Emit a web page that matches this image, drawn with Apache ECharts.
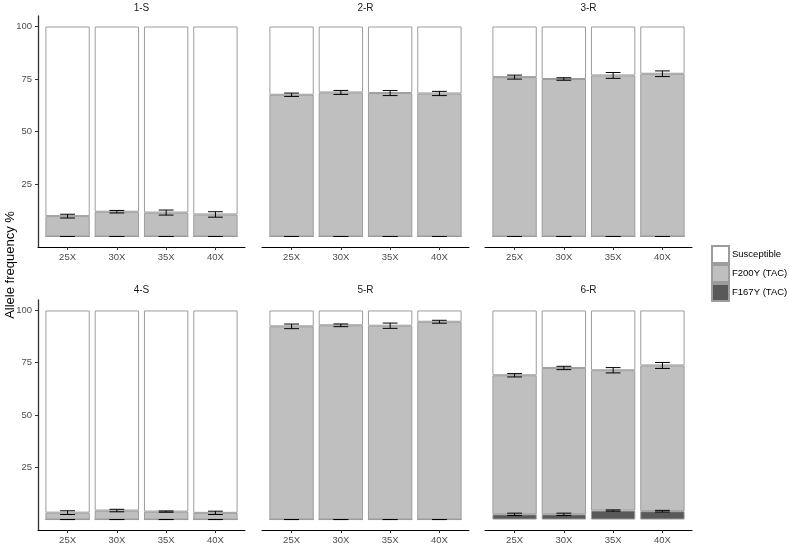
<!DOCTYPE html>
<html>
<head>
<meta charset="utf-8">
<script src="https://cdn.jsdelivr.net/npm/echarts@6/dist/echarts.min.js"></script>
<style>
html,body{margin:0;padding:0;background:#fff;}
#chart{width:789px;height:545px;}
</style>
</head>
<body>
<div id="chart"></div>
<script>
// ---- data ----
const categories = ['25X', '30X', '35X', '40X'];
const panelNames = ['1-S', '2-R', '3-R', '4-S', '5-R', '6-R'];
const yTickValues = [25, 50, 75, 100];

// F167Y (TAC) segment values and standard errors
const f167Y_1S = [0, 0, 0, 0];
const f167Y_2R = [0, 0, 0, 0];
const f167Y_3R = [0, 0, 0, 0];
const f167Y_4S = [0, 0, 0, 0];
const f167Y_5R = [0, 0, 0, 0];
const f167Y_6R = [2.5, 2.5, 4.3, 4.0];
const f167Yse_1S = [0, 0, 0, 0];
const f167Yse_2R = [0, 0, 0, 0];
const f167Yse_3R = [0, 0, 0, 0];
const f167Yse_4S = [0, 0, 0, 0];
const f167Yse_5R = [0, 0, 0, 0];
const f167Yse_6R = [0.55, 0.55, 0.3, 0.4];

// F200Y (TAC) segment values and standard errors
const f200Y_1S = [9.7, 11.8, 11.4, 10.5];
const f200Y_2R = [67.5, 68.6, 68.3, 68.1];
const f200Y_3R = [75.9, 75.0, 76.7, 77.5];
const f200Y_4S = [3.3, 4.3, 3.8, 3.2];
const f200Y_5R = [92.4, 92.9, 92.7, 94.6];
const f200Y_6R = [66.5, 70.0, 67.1, 69.7];
const f200Yse_1S = [0.9, 0.6, 1.2, 1.3];
const f200Yse_2R = [0.8, 0.95, 1.2, 1.0];
const f200Yse_3R = [0.95, 0.6, 1.4, 1.35];
const f200Yse_4S = [0.9, 0.6, 0.3, 0.8];
const f200Yse_5R = [1.1, 0.65, 1.27, 0.7];
const f200Yse_6R = [0.8, 0.8, 1.27, 1.43];

// Susceptible segment values
const susc_1S = [90.3, 88.2, 88.6, 89.5];
const susc_2R = [32.5, 31.4, 31.7, 31.9];
const susc_3R = [24.1, 25.0, 23.3, 22.5];
const susc_4S = [96.7, 95.7, 96.2, 96.8];
const susc_5R = [7.6, 7.1, 7.3, 5.4];
const susc_6R = [31.0, 27.5, 28.6, 26.3];

const f167Y = [f167Y_1S, f167Y_2R, f167Y_3R, f167Y_4S, f167Y_5R, f167Y_6R];
const f167Yse = [f167Yse_1S, f167Yse_2R, f167Yse_3R, f167Yse_4S, f167Yse_5R, f167Yse_6R];
const f200Y = [f200Y_1S, f200Y_2R, f200Y_3R, f200Y_4S, f200Y_5R, f200Y_6R];
const f200Yse = [f200Yse_1S, f200Yse_2R, f200Yse_3R, f200Yse_4S, f200Yse_5R, f200Yse_6R];
const susc = [susc_1S, susc_2R, susc_3R, susc_4S, susc_5R, susc_6R];

// ---- layout / style ----
const FONT = '"Liberation Sans", Arial, Helvetica, sans-serif';
const colLeft = [38, 262, 485];
const rowTop = [16, 300];
const rowH = [231, 230];
const gridW = 207;
const xMin = 0.4, xMax = 4.6;
const barW = gridW / (xMax - xMin) * 0.9;
const borderCol = '#9c9c9c';
const colors = { susc: '#FFFFFF', f200: '#BFBFBF', f167: '#595959' };

const chart = echarts.init(document.getElementById('chart'), null, { renderer: 'canvas' });

const grids = [], xAxes = [], yAxes = [], series = [], titles = [];

function errRender(params, api) {
  const x = api.value(0), y = api.value(1), se = api.value(2);
  const top = api.coord([x, y + se]);
  const bot = api.coord([x, y - se]);
  const hw = api.size([0.15, 0])[0];
  const st = { stroke: '#000', lineWidth: 1 };
  return {
    type: 'group',
    children: [
      { type: 'line', shape: { x1: top[0], y1: top[1], x2: bot[0], y2: bot[1] }, style: st },
      { type: 'line', shape: { x1: top[0] - hw, y1: top[1], x2: top[0] + hw, y2: top[1] }, style: st },
      { type: 'line', shape: { x1: bot[0] - hw, y1: bot[1], x2: bot[0] + hw, y2: bot[1] }, style: st }
    ]
  };
}

panelNames.forEach((name, p) => {
  const col = p % 3, row = Math.floor(p / 3);
  const left = colLeft[col], top = rowTop[row], h = rowH[row];
  grids.push({ left: left, top: top, width: gridW, height: h, containLabel: false });
  xAxes.push({
    type: 'value', gridIndex: p, min: xMin, max: xMax,
    axisLine: { show: true, onZero: false, lineStyle: { color: '#000', width: 1 } },
    axisTick: { show: true, length: 3, customValues: [1, 2, 3, 4], lineStyle: { color: '#333' } },
    axisLabel: {
      customValues: [1, 2, 3, 4], margin: 5,
      formatter: v => categories[Math.round(v) - 1] || '',
      color: '#4D4D4D', fontSize: 9.5, fontFamily: FONT
    },
    splitLine: { show: false }
  });
  const showY = col === 0;
  yAxes.push({
    type: 'value', gridIndex: p, min: -5, max: 105,
    axisLine: { show: showY, onZero: false, lineStyle: { color: '#333', width: 1.3 } },
    axisTick: { show: showY, length: 3, customValues: yTickValues, lineStyle: { color: '#333' } },
    axisLabel: {
      show: showY, customValues: yTickValues, margin: 6,
      color: '#4D4D4D', fontSize: 9.5, fontFamily: FONT
    },
    splitLine: { show: false }
  });
  titles.push({
    text: name, left: left + gridW / 2, top: row === 0 ? 3 : 285, textAlign: 'center', padding: 0,
    textStyle: { fontSize: 10, fontWeight: 'normal', color: '#1A1A1A', fontFamily: FONT }
  });

  // value first so the y dimension is the stacked one; x position second
  const mk = arr => arr.map((v, i) => [v, i + 1]);
  const common = {
    type: 'bar', xAxisIndex: p, yAxisIndex: p, stack: 'st' + p, barWidth: barW,
    encode: { x: 1, y: 0 }, silent: true, animation: false
  };
  series.push(Object.assign({}, common, {
    name: 'F167Y (TAC)', data: mk(f167Y[p]),
    itemStyle: { color: colors.f167, borderColor: borderCol, borderWidth: 1 }
  }));
  series.push(Object.assign({}, common, {
    name: 'F200Y (TAC)', data: mk(f200Y[p]),
    itemStyle: { color: colors.f200, borderColor: borderCol, borderWidth: 1 }
  }));
  series.push(Object.assign({}, common, {
    name: 'Susceptible', data: mk(susc[p]),
    itemStyle: { color: colors.susc, borderColor: borderCol, borderWidth: 1 }
  }));
  // error bars: F200Y at top of its stacked segment, F167Y at top of its segment
  const errData = [];
  for (let i = 0; i < categories.length; i++) {
    errData.push([i + 1, f167Y[p][i] + f200Y[p][i], f200Yse[p][i]]);
    errData.push([i + 1, f167Y[p][i], f167Yse[p][i]]);
  }
  series.push({
    type: 'custom', xAxisIndex: p, yAxisIndex: p, renderItem: errRender,
    data: errData, z: 10, silent: true, animation: false,
    encode: { x: 0, y: 1 }
  });
});

const option = {
  backgroundColor: '#fff',
  animation: false,
  title: titles,
  grid: grids,
  xAxis: xAxes,
  yAxis: yAxes,
  legend: {
    data: ['Susceptible', 'F200Y (TAC)', 'F167Y (TAC)'],
    orient: 'vertical', left: 711, top: 245, padding: 0,
    itemWidth: 17, itemHeight: 17, itemGap: 0,
    icon: 'rect', selectedMode: false,
    textStyle: { fontSize: 9.5, color: '#000', fontFamily: FONT, padding: [0, 0, 0, -2] }
  },
  graphic: [{
    type: 'text', x: 10, y: 265, rotation: Math.PI / 2,
    style: {
      text: 'Allele frequency %', fill: '#000', fontSize: 13, fontFamily: FONT,
      textAlign: 'center', textVerticalAlign: 'middle'
    }
  }],
  series: series
};
chart.setOption(option);
</script>
</body>
</html>
